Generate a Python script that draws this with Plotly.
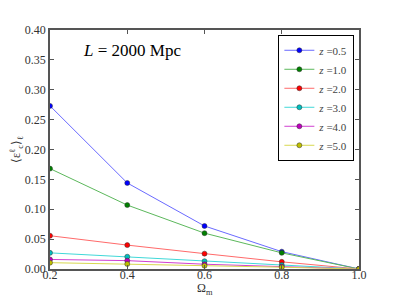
import plotly.graph_objects as go

omega_m = [0.2, 0.4, 0.6, 0.8, 1.0]
z_labels = ["0.5", "1.0", "2.0", "3.0", "4.0", "5.0"]
colors = ["#0000ff", "#008000", "#ff0000", "#00bfbf", "#bf00bf", "#bfbf00"]
line_colors = ["#6a6aff", "#5cb85c", "#ff6a6a", "#40d8d8", "#d040d0", "#d8d850"]
values = [
    [0.273, 0.144, 0.072, 0.029, 0.0],
    [0.168, 0.107, 0.060, 0.027, 0.0],
    [0.0557, 0.040, 0.0257, 0.012, 0.0],
    [0.027, 0.0206, 0.013, 0.0067, 0.0],
    [0.016, 0.014, 0.008, 0.004, 0.0],
    [0.0106, 0.0084, 0.0055, 0.003, 0.0],
]
y_ticks = [0.0, 0.05, 0.1, 0.15, 0.2, 0.25, 0.3, 0.35, 0.4]
x_ticks = [0.2, 0.4, 0.6, 0.8, 1.0]

font = "Liberation Serif, Times New Roman, serif"
fig = go.Figure()
for z, c, lc, v in zip(z_labels, colors, line_colors, values):
    fig.add_trace(go.Scatter(
        x=omega_m, y=v, mode="lines+markers", name=f"<i>z</i> ={z}",
        line=dict(color=lc, width=1),
        marker=dict(color=c, size=5, line=dict(color="#333", width=0.5)),
    ))

fig.add_annotation(x=0.28, y=0.365, xref="x", yref="y", text="<i>L</i> = 2000 Mpc",
                   showarrow=False, xanchor="left", font=dict(family=font, size=17, color="black"))
fig.add_annotation(x=0.5, y=-0.085, xref="paper", yref="paper", text="Ω<sub>m</sub>",
                   showarrow=False, xanchor="center", yanchor="middle",
                   font=dict(family=font, size=12, color="#333"))

axis_common = dict(showgrid=False, zeroline=False, showline=True, linecolor="#555",
                   linewidth=1.5, mirror="ticks", ticks="inside", ticklen=4,
                   tickcolor="#555", automargin=False,
                   tickfont=dict(family=font, size=12, color="#333"))
fig.update_xaxes(range=[0.2, 1.0], tickvals=x_ticks, ticktext=[f"{t:.1f}" for t in x_ticks],
                 ticklabelstandoff=-6, **axis_common)
fig.update_yaxes(range=[0.0, 0.4], tickvals=y_ticks, ticktext=[f"{t:.2f}" for t in y_ticks],
                 title=dict(text="⟨ε<sup>ℓ</sup><sub>c</sub>⟩<sub>ℓ</sub>", font=dict(family=font, size=12, color="#333"), standoff=4),
                 **axis_common)
fig.update_layout(
    width=399, height=299,
    margin=dict(l=42, r=48, t=22, b=38, autoexpand=False),
    plot_bgcolor="white", paper_bgcolor="white",
    showlegend=True,
    legend=dict(x=0.985, y=0.98, xanchor="right", yanchor="top",
                bgcolor="white", bordercolor="black", borderwidth=1,
                font=dict(family=font, size=11, color="#444"),
                itemwidth=30, tracegroupgap=0),
)
fig.write_html("out.html")
